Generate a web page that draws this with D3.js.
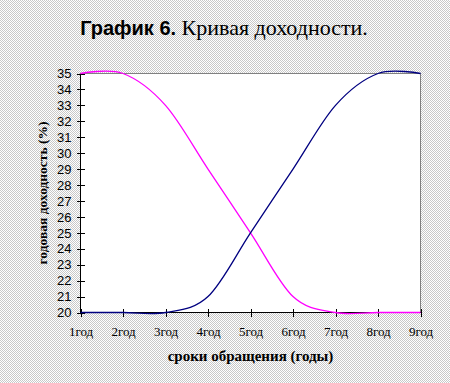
<!DOCTYPE html>
<html><head><meta charset="utf-8">
<script src="https://cdn.jsdelivr.net/npm/d3@7"></script>
<style>html,body{margin:0;padding:0;}svg{display:block;}</style>
</head><body>
<script>
const categories = ["1год","2год","3год","4год","5год","6год","7год","8год","9год"];
const pinkValues = [35, 35, 33, 29, 25, 21, 20, 20, 20];
const blueValues = [20, 20, 20, 21, 25, 29, 33, 35, 35];
const yTickValues = [20,21,22,23,24,25,26,27,28,29,30,31,32,33,34,35];
const titleBold = "График 6.";
const titleRest = " Кривая доходности.";
const yTitle = "годовая доходность (%)";
const xTitle = "сроки обращения (годы)";

const W = 450, H = 383;
const svg = d3.select("body").append("svg").attr("width", W).attr("height", H);
const defs = svg.append("defs");
const pat = defs.append("pattern").attr("id","dither").attr("width",2).attr("height",2).attr("patternUnits","userSpaceOnUse");
pat.append("rect").attr("width",2).attr("height",2).attr("fill","#ffffff");
pat.append("rect").attr("x",0).attr("y",0).attr("width",1).attr("height",1).attr("fill","#c8c8c8");
pat.append("rect").attr("x",1).attr("y",1).attr("width",1).attr("height",1).attr("fill","#c8c8c8");
svg.append("rect").attr("width",W).attr("height",H).attr("fill","url(#dither)");

const x = d3.scalePoint().domain(categories).range([80.5, 420.5]);
const y = d3.scaleLinear().domain([20, 35]).range([312.5, 73.5]);

// plot area
svg.append("rect").attr("x", x.range()[0]).attr("y", y(35))
  .attr("width", x.range()[1]-x.range()[0]).attr("height", y(20)-y(35))
  .attr("fill","#ffffff").attr("stroke","#808080").attr("stroke-width",1);

// y axis
const yAxis = svg.append("g").attr("transform", `translate(${x.range()[0]},0)`)
  .call(d3.axisLeft(y).tickValues(yTickValues).tickSize(4).tickPadding(5).tickFormat(d3.format("d")));
yAxis.selectAll(".tick line").attr("x2", 4).attr("x1", -4);
yAxis.select(".domain").attr("d", `M0,${y(20)}V${y(35)}`);
yAxis.selectAll("line,path").attr("stroke","#000").attr("shape-rendering","crispEdges");
yAxis.selectAll("text").attr("font-family","'Liberation Sans', Arial, sans-serif").attr("font-size",13).attr("fill","#000");

// x axis
const xAxis = svg.append("g").attr("transform", `translate(0,${y(20)})`)
  .call(d3.axisBottom(x).tickSize(4).tickPadding(10));
xAxis.selectAll(".tick line").attr("y1",-4).attr("y2",4);
xAxis.select(".domain").attr("d", `M${x.range()[0]},0H${x.range()[1]}`);
xAxis.selectAll("line,path").attr("stroke","#000").attr("shape-rendering","crispEdges");
xAxis.selectAll("text").attr("font-family","'Liberation Serif', 'Times New Roman', serif").attr("font-size",13).attr("fill","#000");

// lines
const line = d3.line().x((d,i)=>x(categories[i])).y(d=>y(d)).curve(d3.curveCardinal.tension(0));
svg.append("path").datum(pinkValues).attr("d", line).attr("fill","none").attr("stroke","#ff00ff").attr("stroke-width",1.3);
svg.append("path").datum(blueValues).attr("d", line).attr("fill","none").attr("stroke","#000080").attr("stroke-width",1.3);

// title
const t = svg.append("text").attr("x", 224).attr("y", 35).attr("text-anchor","middle").attr("fill","#000");
t.append("tspan").text(titleBold).attr("font-family","'Liberation Sans', Arial, sans-serif").attr("font-weight","bold").attr("font-size",20);
t.append("tspan").text(titleRest).attr("font-family","'Liberation Serif', 'Times New Roman', serif").attr("font-size",22);

// axis titles
svg.append("text").attr("transform", `translate(47,${(y(20)+y(35))/2}) rotate(-90)`)
  .attr("text-anchor","middle").attr("font-family","'Liberation Serif', 'Times New Roman', serif")
  .attr("font-weight","bold").attr("font-size",13.5).attr("fill","#000").text(yTitle);
svg.append("text").attr("x", (x.range()[0]+x.range()[1])/2).attr("y", 361)
  .attr("text-anchor","middle").attr("font-family","'Liberation Serif', 'Times New Roman', serif")
  .attr("font-weight","bold").attr("font-size",15).attr("fill","#000").text(xTitle);
</script>
</body></html>
